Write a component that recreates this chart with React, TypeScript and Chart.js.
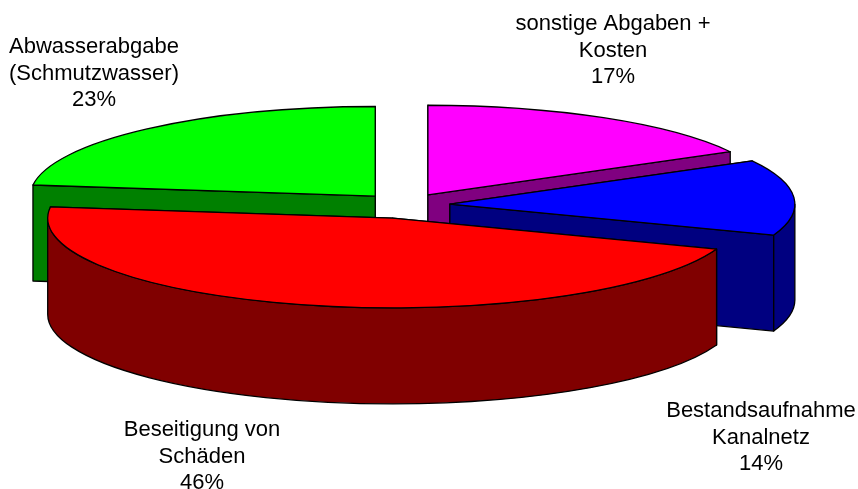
import React, { useEffect, useRef } from "react";
import Chart from "chart.js/auto";

const categories = ["sonstige Abgaben + Kosten", "Bestandsaufnahme Kanalnetz", "Beseitigung von Schäden", "Abwasserabgabe (Schmutzwasser)"];
const shares = [17, 13.6, 46.4, 23];
const topColors = ["#FF00FF", "#0000FF", "#FF0000", "#00FF00"];
const wallColors = ["#800080", "#000080", "#800000", "#008000"];
const labelLines = [
  ["sonstige Abgaben +", "Kosten"],
  ["Bestandsaufnahme", "Kanalnetz"],
  ["Beseitigung von", "Schäden"],
  ["Abwasserabgabe", "(Schmutzwasser)"],
];
const labelAnchors = [
  { x: 613, y: 30 },
  { x: 761, y: 417 },
  { x: 202, y: 436 },
  { x: 94, y: 53 },
];
const explodeBy = [45, 45, 52, 45];

const TILT = 0.26;
const DEPTH = 96;
const RADIUS = 345;
const FONT_SIZE = 22;
const LINE_HEIGHT = 26.5;

const pie3d = {
  id: "pie3d",
  beforeDatasetsDraw(chart: any) {
    const ctx = chart.ctx as CanvasRenderingContext2D;
    const arcs = chart.getDatasetMeta(0).data as any[];
    const faces = arcs.map((arc, i) => {
      const mid = (arc.startAngle + arc.endAngle) / 2;
      const cx = arc.x + Math.cos(mid) * explodeBy[i];
      const cy = arc.y + Math.sin(mid) * explodeBy[i] * TILT;
      return { i, a: arc.startAngle, b: arc.endAngle, r: arc.outerRadius, cx, cy };
    });
    faces.sort((p, q) => p.cy - q.cy);
    ctx.save();
    ctx.lineWidth = 1.3;
    ctx.strokeStyle = "#000";
    ctx.lineJoin = "round";
    for (const f of faces) {
      const ry = f.r * TILT;
      const px = (t: number) => f.cx + f.r * Math.cos(t);
      const py = (t: number) => f.cy + ry * Math.sin(t);
      const paint = (fill: string) => {
        ctx.fillStyle = fill;
        ctx.fill();
        ctx.stroke();
      };
      const wall = (t: number) => {
        ctx.beginPath();
        ctx.moveTo(f.cx, f.cy);
        ctx.lineTo(px(t), py(t));
        ctx.lineTo(px(t), py(t) + DEPTH);
        ctx.lineTo(f.cx, f.cy + DEPTH);
        ctx.closePath();
        paint(wallColors[f.i]);
      };
      const startVisible = -Math.cos(f.a) > 1e-6;
      const endVisible = Math.cos(f.b) > 1e-6;
      if (!startVisible) wall(f.a);
      if (!endVisible) wall(f.b);
      if (startVisible) wall(f.a);
      if (endVisible) wall(f.b);
      const lo = Math.max(f.a, 0);
      const hi = Math.min(f.b, Math.PI);
      if (hi > lo) {
        ctx.beginPath();
        ctx.ellipse(f.cx, f.cy, f.r, ry, 0, lo, hi);
        ctx.lineTo(px(hi), py(hi) + DEPTH);
        ctx.ellipse(f.cx, f.cy + DEPTH, f.r, ry, 0, hi, lo, true);
        ctx.closePath();
        paint(wallColors[f.i]);
      }
      ctx.beginPath();
      ctx.moveTo(f.cx, f.cy);
      ctx.ellipse(f.cx, f.cy, f.r, ry, 0, f.a, f.b);
      ctx.closePath();
      paint(topColors[f.i]);
    }
    ctx.fillStyle = "#000";
    ctx.font = `${FONT_SIZE}px "Liberation Sans", Arial, sans-serif`;
    ctx.textAlign = "center";
    ctx.textBaseline = "alphabetic";
    labelLines.forEach((lines, i) => {
      const all = [...lines, `${Math.round(shares[i])}%`];
      all.forEach((t, k) => ctx.fillText(t, labelAnchors[i].x, labelAnchors[i].y + k * LINE_HEIGHT));
    });
    ctx.restore();
    return false;
  },
};

export default function App() {
  const ref = useRef<HTMLCanvasElement>(null);
  useEffect(() => {
    const chart = new Chart(ref.current!, {
      type: "pie",
      data: {
        labels: categories,
        datasets: [{ data: shares, backgroundColor: topColors, radius: RADIUS } as any],
      },
      options: {
        responsive: false,
        animation: false,
        layout: { padding: { left: 0, right: 48, top: 0, bottom: 79 } },
        plugins: { legend: { display: false }, tooltip: { enabled: false } },
      },
      plugins: [pie3d as any],
    });
    return () => chart.destroy();
  }, []);
  return (
    <div style={{ position: "fixed", left: 0, top: 0, width: 858, height: 489, background: "#fff" }}>
      <canvas ref={ref} width={858} height={489} style={{ display: "block" }} />
    </div>
  );
}
